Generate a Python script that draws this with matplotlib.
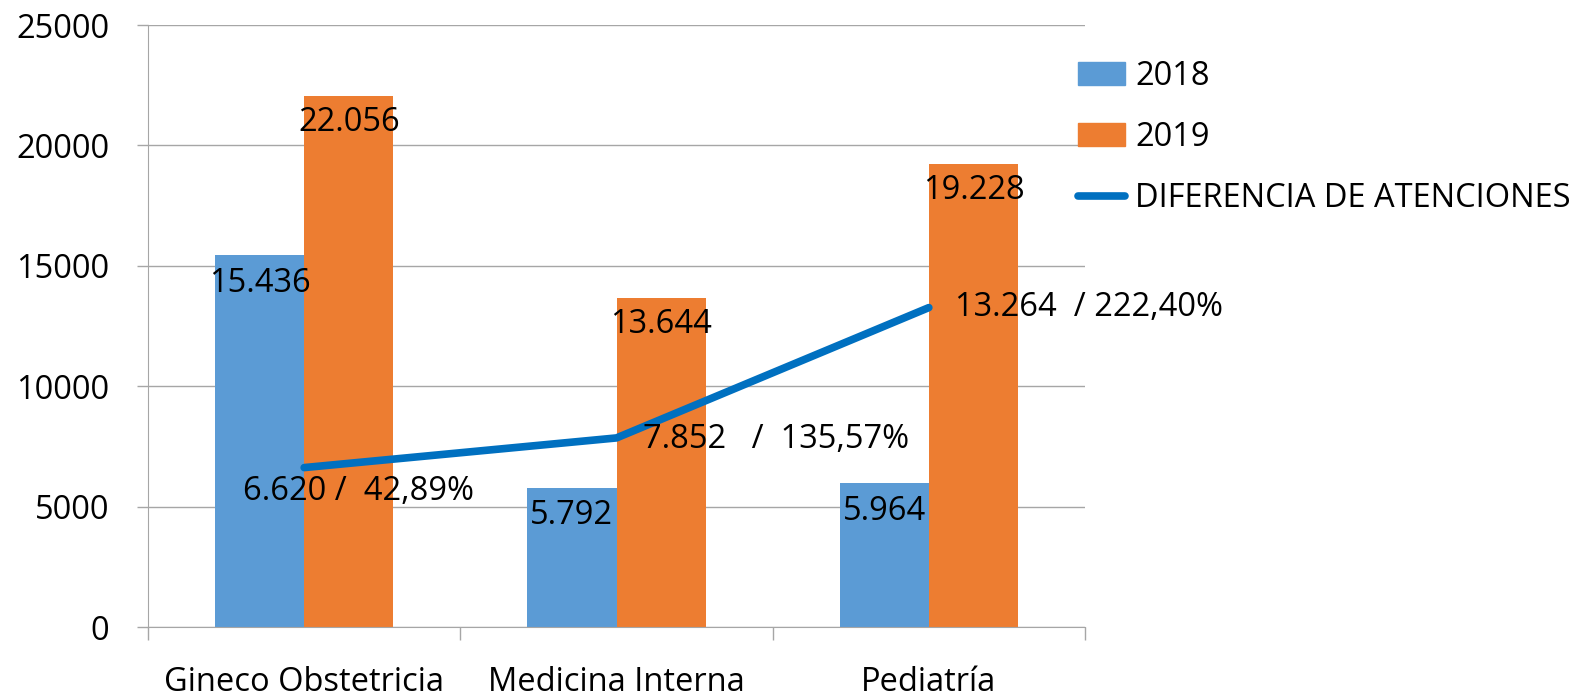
import matplotlib
matplotlib.use("Agg")
import matplotlib.pyplot as plt
import numpy as np
from matplotlib.patches import Patch
from matplotlib.lines import Line2D

categories = ["Gineco Obstetricia", "Medicina Interna", "Pediatría"]
v2018 = [15436, 5792, 5964]
v2019 = [22056, 13644, 19228]
diff = [6620, 7852, 13264]
bar_labels_2018 = ["15.436", "5.792", "5.964"]
bar_labels_2019 = ["22.056", "13.644", "19.228"]
diff_labels = ["6.620 /  42,89%", "7.852   /  135,57%", "13.264  / 222,40%"]
yticks = [0, 5000, 10000, 15000, 20000, 25000]

plt.rcParams['font.family'] = ['Open Sans', 'DejaVu Sans']
FS = 23.5

c18 = "#5B9BD5"
c19 = "#ED7D31"
cline = "#0070C0"
grid_c = "#A6A6A6"

fig = plt.figure(figsize=(15.77, 6.96), dpi=100)
ax = fig.add_axes([148/1577, 69/696, (1085-148)/1577, (627-25)/696])

x = np.arange(len(categories))
w = 0.286
ax.bar(x - w/2, v2018, width=w, color=c18, zorder=2)
ax.bar(x + w/2, v2019, width=w, color=c19, zorder=2)
ax.plot(x, diff, color=cline, lw=5.5, zorder=3, solid_capstyle='round')

for xi, v, t in zip(x - w/2, v2018, bar_labels_2018):
    ax.annotate(t, (xi, v), xytext=(0, -20), textcoords='offset points',
                ha='center', va='center', fontsize=FS, zorder=4)
for xi, v, t in zip(x + w/2, v2019, bar_labels_2019):
    ax.annotate(t, (xi, v), xytext=(0, -19), textcoords='offset points',
                ha='center', va='center', fontsize=FS, zorder=4)

offsets = [(-44, -17), (19, -1), (19, 0)]
for xi, v, t, off in zip(x, diff, diff_labels, offsets):
    ax.annotate(t, (xi, v), xytext=off, textcoords='offset points',
                ha='left', va='center', fontsize=FS, zorder=4)

ax.set_xlim(-0.5, 2.5)
ax.set_ylim(0, 25000)
ax.set_yticks(yticks)
ax.set_yticklabels([str(t) for t in yticks], fontsize=FS)
ax.set_xticks(x)
ax.set_xticklabels(categories, fontsize=FS)
ax.tick_params(axis='x', length=0, pad=28)
ax.set_xticks([-0.5, 0.5, 1.5, 2.5], minor=True)
ax.tick_params(axis='x', which='minor', length=9, color=grid_c, width=1)
ax.tick_params(axis='y', length=8, color=grid_c, width=1, pad=20)

ax.grid(axis='y', color=grid_c, lw=1, zorder=0)
ax.set_axisbelow(True)
for s in ['top', 'right']:
    ax.spines[s].set_visible(False)
ax.spines['left'].set_color(grid_c)
ax.spines['bottom'].set_color(grid_c)

handles = [Patch(color=c18), Patch(color=c19), Line2D([], [], color=cline, lw=5.5, solid_capstyle='round')]
fig.legend(handles, ["2018", "2019", "DIFERENCIA DE ATENCIONES"], loc='upper left',
           bbox_to_anchor=(1078/1577, 1 - 60/696), frameon=False, fontsize=FS,
           handlelength=1.45, handleheight=0.7, handletextpad=0.3, labelspacing=0.86,
           borderaxespad=0, borderpad=0)

fig.savefig("out.png", dpi=100)
